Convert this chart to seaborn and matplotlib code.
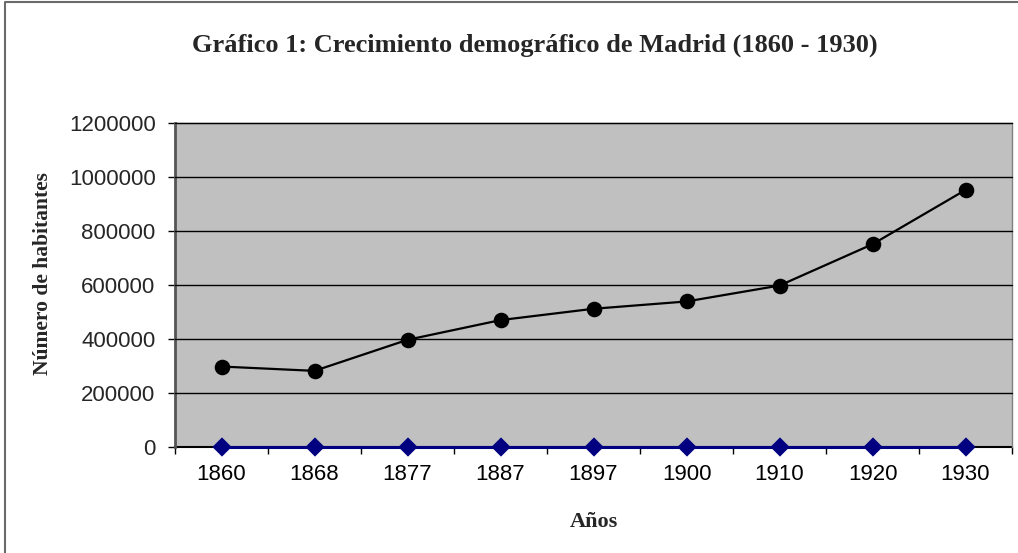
import matplotlib
matplotlib.use("Agg")
import matplotlib.pyplot as plt
import seaborn as sns
from matplotlib.lines import Line2D
from matplotlib.ticker import FixedLocator

# Data
years = ["1860", "1868", "1877", "1887", "1897", "1900", "1910", "1920", "1930"]
habitantes = [298000, 282000, 397000, 470000, 512000, 539000, 598000, 751000, 952000]
serie_cero = [0, 0, 0, 0, 0, 0, 0, 0, 0]
y_ticks = [0, 200000, 400000, 600000, 800000, 1000000, 1200000]

sns.set_theme(style="white")
plt.rcParams["font.family"] = ["Liberation Sans", "DejaVu Sans"]

fig = plt.figure(figsize=(10.18, 5.53), dpi=100)
ax = fig.add_axes([175 / 1018, 1 - 447 / 553, (1012 - 175) / 1018, (447 - 123) / 553])
ax.set_facecolor("#C0C0C0")

# gridlines
for v in y_ticks[1:]:
    ax.axhline(v, color="black", lw=1.0, zorder=1)

sns.pointplot(x=years, y=serie_cero, order=years, color="#000080", marker="D",
              markersize=8, linewidth=2.2, ax=ax)
sns.pointplot(x=years, y=habitantes, order=years, color="black", marker="o",
              markersize=10, linewidth=1.6, ax=ax)
for i, ln in enumerate(ax.lines):
    ln.set_clip_on(False)
    ln.set_zorder(5 + i)

ax.set_xlim(-0.5, len(years) - 0.5)
ax.set_ylim(0, 1200000)
ax.set_yticks(y_ticks)
ax.set_yticklabels([str(v) for v in y_ticks], fontsize=16)
ax.set_xticks(range(len(years)))
ax.set_xticklabels(years, fontsize=16)
ax.xaxis.set_minor_locator(FixedLocator([i - 0.5 for i in range(len(years) + 1)]))
ax.tick_params(axis="x", which="major", length=0, pad=12, colors="black")
ax.tick_params(axis="x", which="minor", length=5, width=1, color="black", direction="out", bottom=True)
ax.tick_params(axis="y", which="major", length=5, width=1, color="black", direction="out", left=True, pad=9)

for side in ["top", "right"]:
    ax.spines[side].set_visible(True)
    ax.spines[side].set_color("#808080")
    ax.spines[side].set_linewidth(1.0)
ax.spines["left"].set_color("#555555")
ax.spines["left"].set_linewidth(2.0)
ax.spines["bottom"].set_color("black")
ax.spines["bottom"].set_linewidth(1.5)
ax.spines["bottom"].set_zorder(2)

ax.set_xlabel("Años", family=["Liberation Serif"], fontweight="bold", fontsize=16, labelpad=20)
ax.set_ylabel("Número de habitantes", family=["Liberation Serif"], fontweight="bold", fontsize=15.5)
ax.yaxis.set_label_coords(-0.1458, 0.534)

fig.text(535 / 1018, 1 - 45 / 553, "Gráfico 1: Crecimiento demográfico de Madrid (1860 - 1930)",
         family=["Liberation Serif"], fontweight="bold", fontsize=19, ha="center", va="center")

# outer chart border (only top and left visible in the crop)
fig.lines.append(Line2D([5 / 1018, 5 / 1018, 1.0], [0.0, 1 - 2 / 553, 1 - 2 / 553],
                        transform=fig.transFigure, color="#6b6b6b", lw=1.5))

fig.savefig("out.png", dpi=100)
